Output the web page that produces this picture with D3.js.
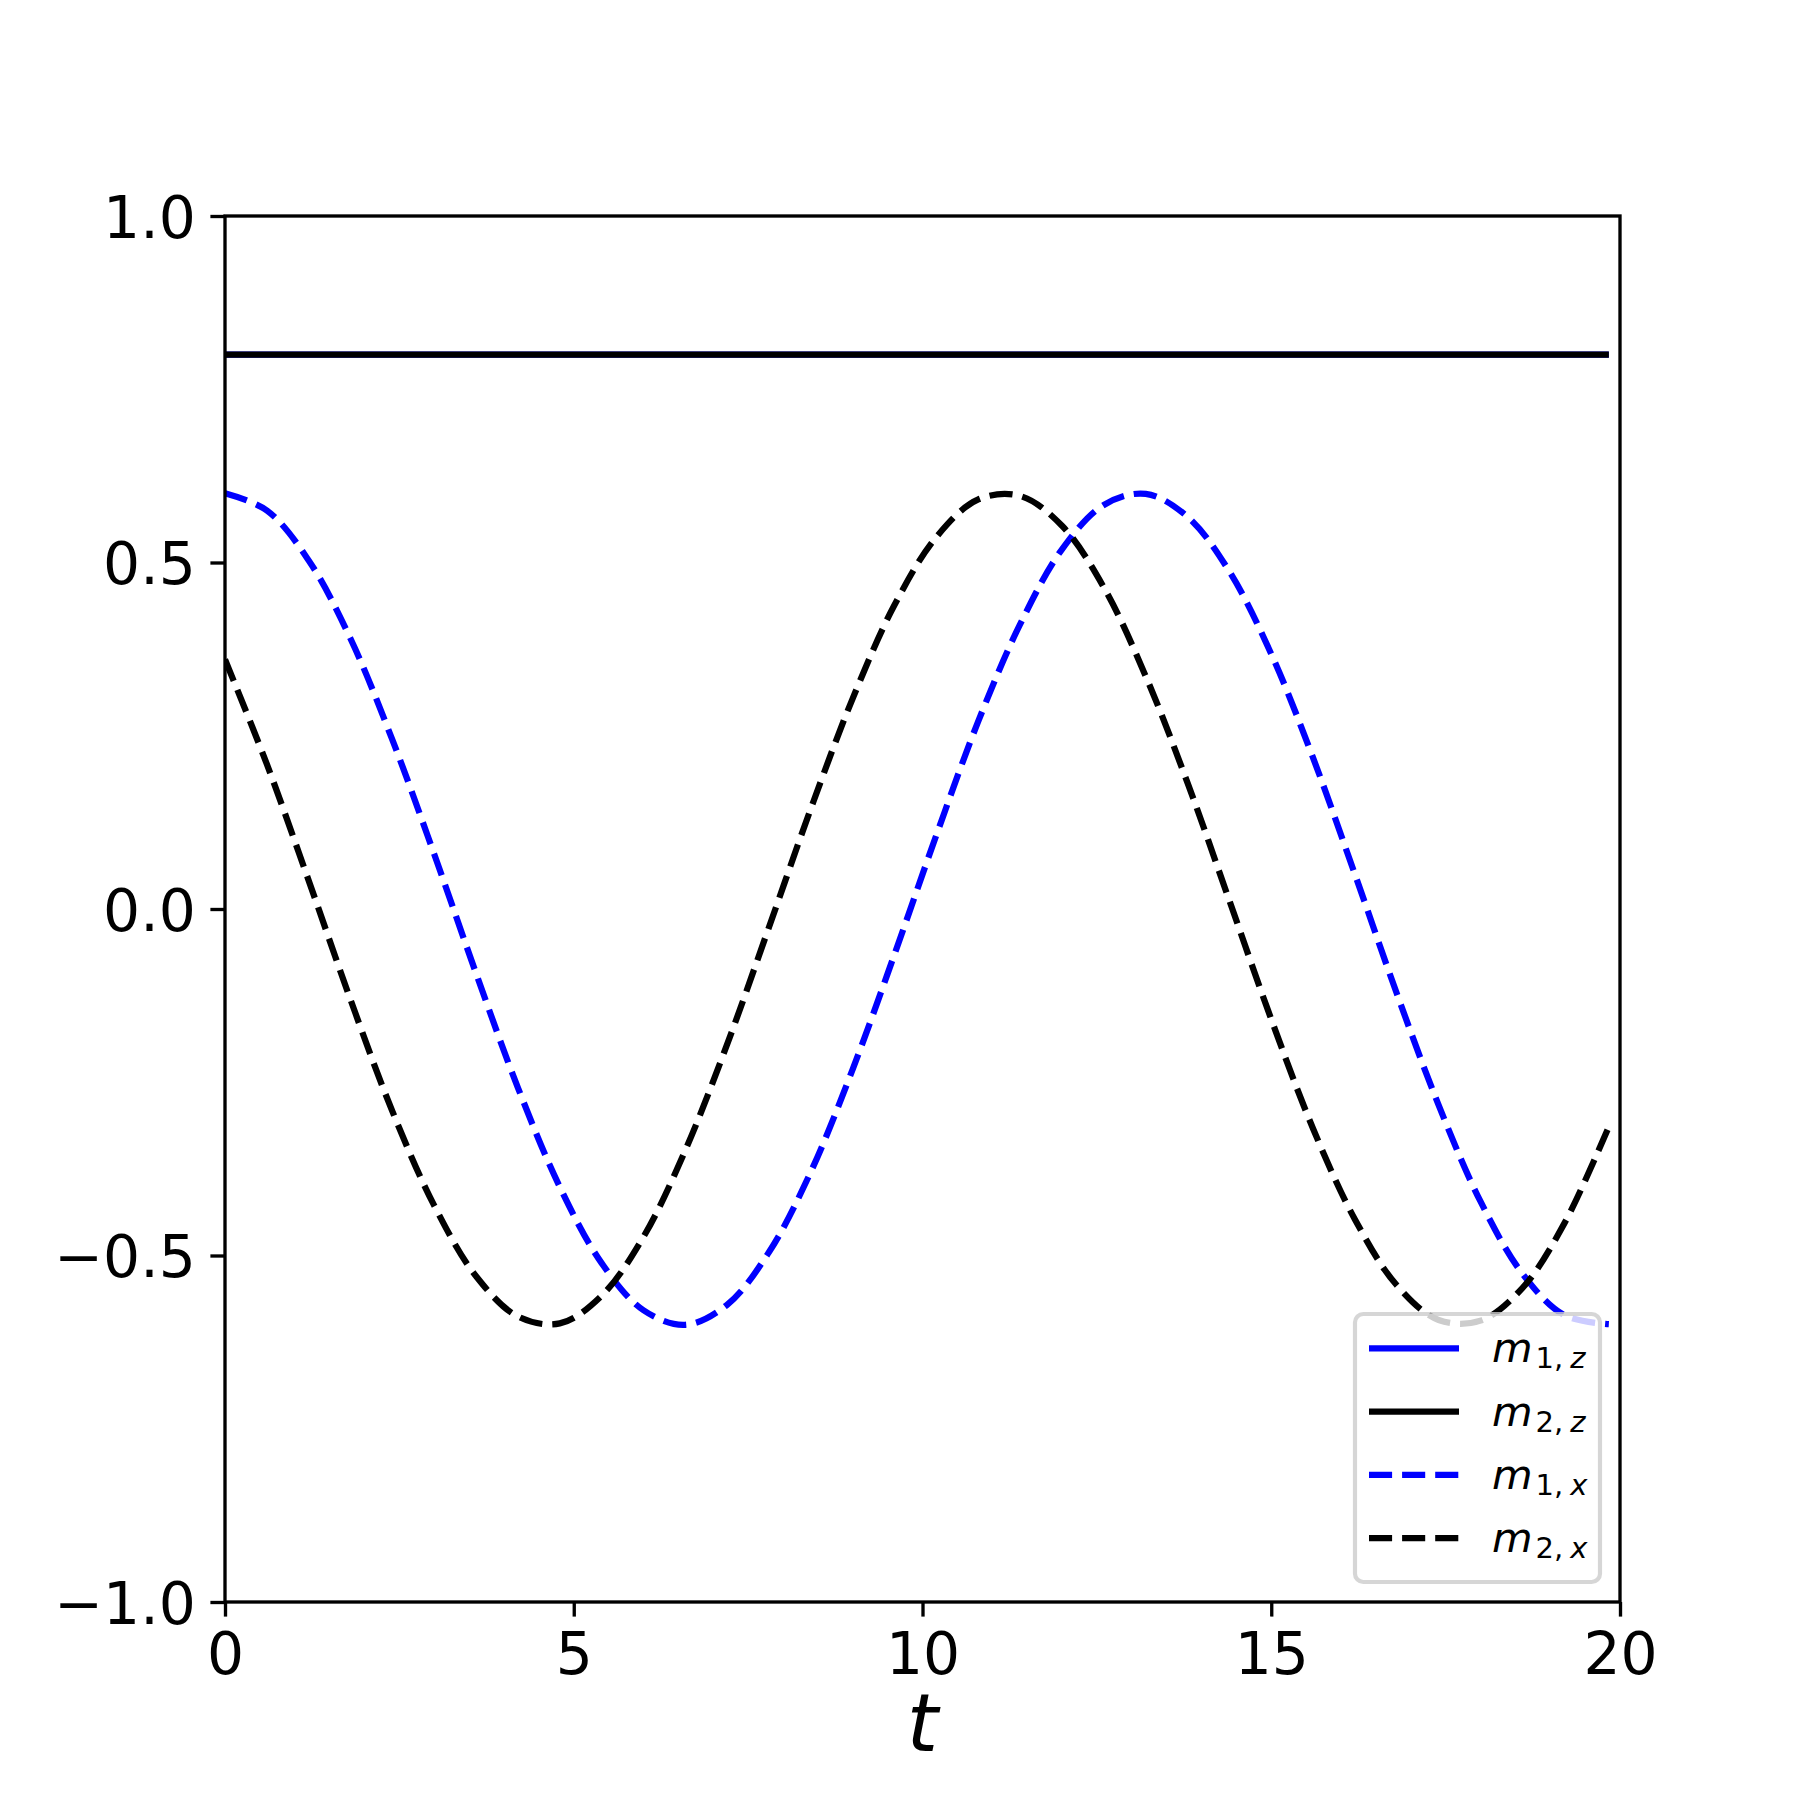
<!DOCTYPE html>
<html><head><meta charset="utf-8">
<script src="https://cdn.jsdelivr.net/npm/d3@7"></script>
<style>body{margin:0;background:#fff}svg{display:block}</style>
</head><body>
<script>
// ---- data ----
const tValues = [0,0.6,1.2,1.8,2.4,3.0,3.6,4.2,4.8,5.4,6.0,6.6,7.2,7.8,8.4,9.0,9.6,10.2,10.8,11.4,12.0,12.6,13.2,13.8,14.4,15.0,15.6,16.2,16.8,17.4,18.0,18.6,19.2,19.84];
const m1z = [0.8,0.8,0.8,0.8,0.8,0.8,0.8,0.8,0.8,0.8,0.8,0.8,0.8,0.8,0.8,0.8,0.8,0.8,0.8,0.8,0.8,0.8,0.8,0.8,0.8,0.8,0.8,0.8,0.8,0.8,0.8,0.8,0.8,0.8];
const m2z = [0.8,0.8,0.8,0.8,0.8,0.8,0.8,0.8,0.8,0.8,0.8,0.8,0.8,0.8,0.8,0.8,0.8,0.8,0.8,0.8,0.8,0.8,0.8,0.8,0.8,0.8,0.8,0.8,0.8,0.8,0.8,0.8,0.8,0.8];
const m1x = [0.600,0.575,0.503,0.390,0.244,0.079,-0.093,-0.258,-0.401,-0.511,-0.579,-0.600,-0.571,-0.495,-0.379,-0.231,-0.065,0.107,0.271,0.411,0.519,0.583,0.599,0.566,0.487,0.368,0.218,0.050,-0.122,-0.283,-0.422,-0.526,-0.586,-0.599];
const m2x = [0.360,0.209,0.041,-0.131,-0.292,-0.428,-0.530,-0.588,-0.598,-0.558,-0.473,-0.348,-0.195,-0.026,0.145,0.304,0.439,0.537,0.591,0.596,0.553,0.464,0.336,0.182,0.012,-0.159,-0.317,-0.448,-0.543,-0.593,-0.594,-0.547,-0.454,-0.314];
const xTicks = [0,5,10,15,20];
const xTickLabels = ["0","5","10","15","20"];
const yTicks = [-1.0,-0.5,0.0,0.5,1.0];
const yTickLabels = ["\u22121.0","\u22120.5","0.0","0.5","1.0"];
const seriesNames = [["1","z"],["2","z"],["1","x"],["2","x"]];
const seriesColors = ["#0000ff","#000000","#0000ff","#000000"];
const seriesDashed = [false,false,true,true];
const seriesData = [m1z,m2z,m1x,m2x];

// ---- layout ----
const W = 1800, H = 1800;
const L = 225, R = 1620, T = 216, B = 1602;
const svg = d3.select("body").append("svg").attr("width",W).attr("height",H)
  .style("font-family","'DejaVu Sans'");
svg.append("rect").attr("width",W).attr("height",H).attr("fill","#fff");

const x = d3.scaleLinear().domain([0,20]).range([L,R]);
const y = d3.scaleLinear().domain([-1,1]).range([B,T]);

svg.append("clipPath").attr("id","clip").append("rect")
  .attr("x",L).attr("y",T).attr("width",R-L).attr("height",B-T);

const line = d3.line().x((d,i)=>x(tValues[i])).y(d=>y(d)).curve(d3.curveCatmullRom.alpha(0.5));
const lw = 6.25;
const dash = "23.1,10";
const g = svg.append("g").attr("clip-path","url(#clip)");
seriesData.forEach((s,i)=>{
  g.append("path").attr("d",line(s)).attr("fill","none")
    .attr("stroke",seriesColors[i]).attr("stroke-width",lw)
    .attr("stroke-dasharray",seriesDashed[i]?dash:null)
    .attr("stroke-linecap","butt").attr("stroke-linejoin","round");
});

// ---- axes ----
const tickLen = 14.6, spineW = 3.33, fs = 58.3;
const xAxis = d3.axisBottom(x).tickValues(xTicks).tickFormat((d,i)=>xTickLabels[i]).tickSize(tickLen).tickPadding(14.6);
const yAxis = d3.axisLeft(y).tickValues(yTicks).tickFormat((d,i)=>yTickLabels[i]).tickSize(tickLen).tickPadding(14.6);
const gx = svg.append("g").attr("transform",`translate(0,${B})`).call(xAxis);
const gy = svg.append("g").attr("transform",`translate(${L},0)`).call(yAxis);
[gx,gy].forEach(a=>{
  a.select(".domain").remove();
  a.selectAll(".tick line").attr("stroke","#000").attr("stroke-width",spineW);
  a.selectAll(".tick text").attr("fill","#000").attr("font-size",fs).attr("font-family","'DejaVu Sans'");
});
gx.selectAll(".tick text").attr("dy","0.74em");
gy.selectAll(".tick text").attr("dy","0.36em");

// spines
svg.append("rect").attr("x",L).attr("y",T).attr("width",R-L).attr("height",B-T)
  .attr("fill","none").attr("stroke","#000").attr("stroke-width",spineW);

// x label
svg.append("text").attr("x",(L+R)/2).attr("y",1751).attr("text-anchor","middle")
  .attr("font-size",80).attr("font-style","italic").text("t");

// ---- legend ----
const lfs = 41.7;
const lg = svg.append("g");
lg.append("rect").attr("x",1355).attr("y",1314).attr("width",245).attr("height",268)
  .attr("rx",8.3).attr("fill","#fff").attr("fill-opacity",0.8)
  .attr("stroke","#cccccc").attr("stroke-opacity",0.8).attr("stroke-width",4.17);
const rowY = [1348.3,1411.5,1474.8,1538];
seriesNames.forEach((nm,i)=>{
  lg.append("line").attr("x1",1369).attr("x2",1459).attr("y1",rowY[i]).attr("y2",rowY[i])
    .attr("stroke",seriesColors[i]).attr("stroke-width",lw)
    .attr("stroke-dasharray",seriesDashed[i]?dash:null);
  const t = lg.append("text").attr("x",1492).attr("y",rowY[i]+14).attr("font-size",lfs);
  t.append("tspan").attr("font-style","italic").text("m");
  t.append("tspan").attr("font-size",29).attr("dy",6).attr("dx",3).text(nm[0]+",");
  t.append("tspan").attr("font-size",29).attr("font-style","italic").attr("dx",7).text(nm[1]);
});
</script>
</body></html>
